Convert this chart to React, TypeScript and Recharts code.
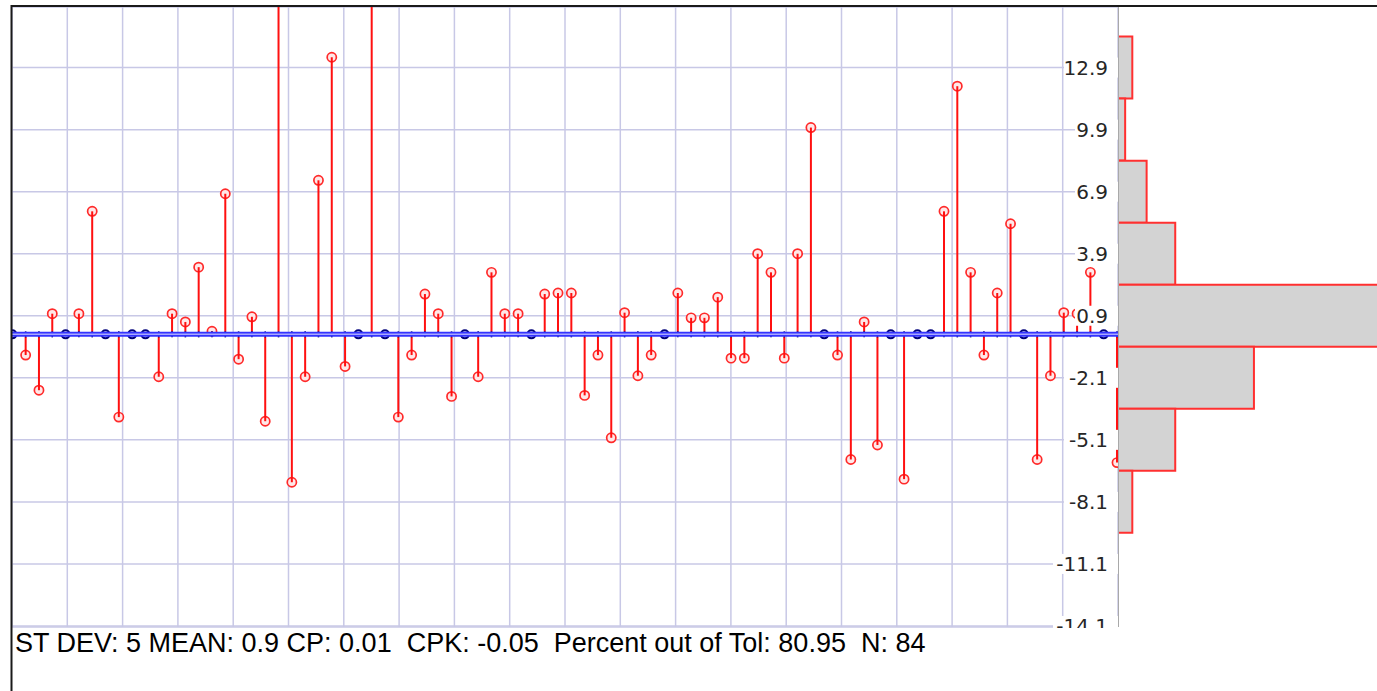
import { ComposedChart, BarChart, Bar, XAxis, YAxis, CartesianGrid, ReferenceLine } from 'recharts';

// deviation of each sample, in order (values above the top of the plot run off-chart)
const DEVIATIONS = [
  0, -1.0, -2.7, 1.0, 0, 1.0, 5.95, 0, -4.0, 0,
  0, -2.05, 1.0, 0.6, 3.25, 0.15, 6.8, -1.2, 0.85, -4.2,
  17.5, -7.15, -2.05, 7.45, 13.4, -1.55, 0, 18.5, 0, -4.0,
  -1.0, 1.95, 1.0, -3.0, 0, -2.05, 3.0, 1.0, 1.0, 0,
  1.95, 2.0, 2.0, -2.95, -1.0, -5.0, 1.05, -2.0, -1.0, 0,
  2.0, 0.8, 0.8, 1.8, -1.15, -1.15, 3.9, 3.0, -1.15, 3.9,
  10.0, 0, -1.0, -6.05, 0.6, -5.35, 0, -7.0, 0, 0,
  5.95, 12.0, 3.0, -1.0, 2.0, 5.35, 0, -6.05, -2.0, 1.05,
  1.0, 3.0, 0, -6.2,
];

const Y_TICKS = [12.9, 9.9, 6.9, 3.9, 0.9, -2.1, -5.1, -8.1, -11.1, -14.1];

// histogram bins (centres) and their counts
const HIST_CENTERS = [12.9, 9.9, 6.9, 3.9, 0.9, -2.1, -5.1, -8.1];
const HIST_COUNTS = [2, 1, 4, 8, 38, 19, 8, 2];

const STATS = 'ST DEV: 5 MEAN: 0.9 CP: 0.01  CPK: -0.05  Percent out of Tol: 80.95  N: 84';

const Y_DOMAIN: [number, number] = [-14.15, 15.83];
const X_DOMAIN: [number, number] = [0, 83.1];
const X_GRID = Array.from({ length: 21 }, (_, k) => (X_DOMAIN[1] * k) / 20);
const HIST_MAX = 36.2;

const data = DEVIATIONS.map((v, i) => ({ i, v }));
const hist = HIST_CENTERS.map((c, k) => ({ c, n: HIST_COUNTS[k] }));

function Lollipop(props: any) {
  const { x, y, width, height, payload } = props;
  const v = payload.v;
  const cx = x + width / 2;
  const a = y;
  const b = y + height;
  const base = v >= 0 ? Math.max(a, b) : Math.min(a, b);
  const tip = v >= 0 ? Math.min(a, b) : Math.max(a, b);
  if (v === 0) {
    return <circle cx={cx} cy={base} r={4} fill="#dfe0ff" stroke="#00007a" strokeWidth={2} />;
  }
  const inside = v < Y_DOMAIN[1] && v > Y_DOMAIN[0];
  const dir = v > 0 ? -1 : 1;
  return (
    <g>
      {inside && <circle cx={cx} cy={tip} r={4.6} fill="#ffe8e8" stroke="#ff2a2a" strokeWidth={1.7} />}
      <line x1={cx} y1={base + dir * 2.5} x2={cx} y2={tip} stroke="#ff1010" strokeWidth={2} />
      <line x1={cx} y1={base - 3} x2={cx} y2={base + 3} stroke="#00006e" strokeWidth={1.6} />
    </g>
  );
}

function YTick(props: any) {
  const { x, y, payload } = props;
  const label = Number(payload.value).toFixed(1);
  const w = label.length * 11;
  return (
    <g>
      <rect x={x - w - 2} y={y - 10} width={w + 12} height={20} fill="#ffffff" />
      <text x={x - 2} y={y} dy={7} textAnchor="end" fontFamily="DejaVu Sans" fontSize={20} fill="#262626">
        {label}
      </text>
    </g>
  );
}

export default function App() {
  return (
    <div style={{ position: 'absolute', left: 0, top: 0, width: 1377, height: 691, background: '#fff', overflow: 'hidden' }}>
      <div style={{ position: 'absolute', left: 0, top: 0 }}>
        <ComposedChart width={1118} height={691} data={data} margin={{ top: 7, right: 0, bottom: 64, left: 12 }}>
          <CartesianGrid stroke="#c8c8e6" strokeWidth={1.5} />
          <XAxis type="number" dataKey="i" domain={X_DOMAIN} ticks={X_GRID} interval={0} hide allowDataOverflow />
          <ReferenceLine y={0} stroke="#3434ff" strokeWidth={5} />
          <ReferenceLine y={0} stroke="#a8a8ff" strokeWidth={1.5} />
          <Bar dataKey="v" barSize={4} shape={Lollipop} isAnimationActive={false} />
          <YAxis
            type="number"
            domain={Y_DOMAIN}
            ticks={Y_TICKS}
            interval={0}
            orientation="right"
            mirror
            allowDataOverflow
            axisLine={false}
            tickLine={false}
            tick={YTick}
          />
        </ComposedChart>
      </div>
      <div style={{ position: 'absolute', left: 1118, top: 0 }}>
        <BarChart width={259} height={691} layout="vertical" data={hist} barCategoryGap={0} margin={{ top: 7, right: 0, bottom: 64, left: 0 }}>
          <XAxis type="number" domain={[0, HIST_MAX]} hide allowDataOverflow />
          <YAxis type="number" dataKey="c" domain={Y_DOMAIN} ticks={HIST_CENTERS} reversed hide allowDataOverflow />
          <Bar dataKey="n" fill="#d3d3d3" stroke="#ff3030" strokeWidth={2} isAnimationActive={false} />
          <ReferenceLine x={0} stroke="#a9a9a9" strokeWidth={2} />
        </BarChart>
      </div>
      <svg width={1377} height={691} style={{ position: 'absolute', left: 0, top: 0, pointerEvents: 'none' }}>
        <rect x={12} y={628} width={1365} height={63} fill="#ffffff" />
        <text x={15} y={652} fontFamily="Liberation Sans" fontSize={27} fill="#000" style={{ whiteSpace: 'pre' }}>
          {STATS}
        </text>
        <line x1={11} y1={6} x2={1377} y2={6} stroke="#1a1a1a" strokeWidth={2} />
        <line x1={11.5} y1={5} x2={11.5} y2={691} stroke="#1a1a1a" strokeWidth={2} />
      </svg>
    </div>
  );
}
